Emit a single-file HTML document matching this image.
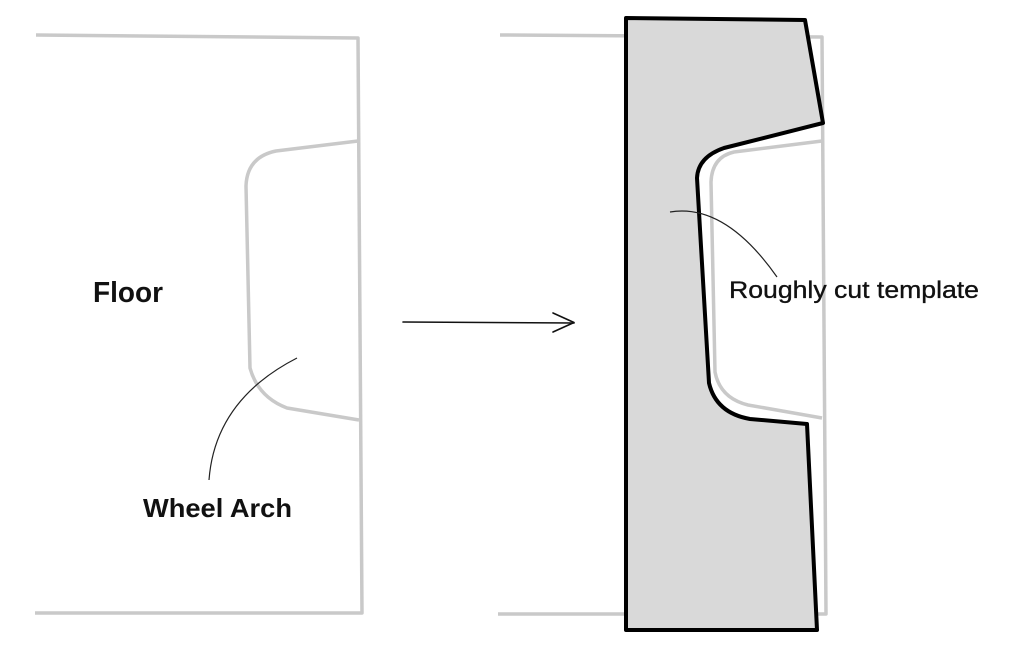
<!DOCTYPE html>
<html>
<head>
<meta charset="utf-8">
<style>
  html, body { margin: 0; padding: 0; background: #ffffff; }
  body { width: 1024px; height: 646px; overflow: hidden; }
  svg { display: block; }
  text { font-family: "Liberation Sans", "DejaVu Sans", sans-serif; fill: #111; }
</style>
</head>
<body>
<svg width="1024" height="646" viewBox="0 0 1024 646" xmlns="http://www.w3.org/2000/svg">
  <rect x="0" y="0" width="1024" height="646" fill="#ffffff"/>

  <!-- Left floor outline -->
  <g fill="none" stroke="#c9c9c9" stroke-width="3.5" stroke-linejoin="round" stroke-linecap="butt">
    <path d="M36,35 L358,38 L362,613 L35,613"/>
    <path d="M358,141 L276,151 Q247,157 246,186 L250,368 Q258,397 287,408 L359,420"/>
  </g>

  <!-- Wheel arch leader -->
  <path d="M297,358 Q215,400 209,480" fill="none" stroke="#222" stroke-width="1.2"/>
  <text x="143" y="517" font-size="26" font-weight="bold" textLength="149" lengthAdjust="spacingAndGlyphs">Wheel Arch</text>

  <text x="93" y="302" font-size="29" font-weight="bold" textLength="70" lengthAdjust="spacingAndGlyphs">Floor</text>

  <!-- Arrow -->
  <g fill="none" stroke="#111" stroke-width="1.6" stroke-linecap="round" stroke-linejoin="round">
    <path d="M403,322 L574,323"/>
    <path d="M553,313 L574,322.5 L553,332"/>
  </g>

  <!-- Right floor outline (behind template) -->
  <g fill="none" stroke="#c9c9c9" stroke-width="3.5" stroke-linejoin="round">
    <path d="M500,35 L822,37 L826,614 L498,614"/>
    <path d="M822,141 L734,152 Q712,157 711,182 L715,372 Q720,398 748,405 L822,418"/>
  </g>

  <!-- Template -->
  <path d="M626,18 L805,20 L823,123 L724,148 Q698,157 697,178 L709,383 Q716,413 750,419 L807,424 L817,630 L626,630 Z"
        fill="#d9d9d9" stroke="#000" stroke-width="4" stroke-linejoin="round"/>

  <!-- Template leader -->
  <path d="M670,212 Q725,203 777,277" fill="none" stroke="#222" stroke-width="1.2"/>
  <text x="729" y="298" font-size="24" stroke="#111" stroke-width="0.35" textLength="250" lengthAdjust="spacingAndGlyphs">Roughly cut template</text>
</svg>
</body>
</html>
